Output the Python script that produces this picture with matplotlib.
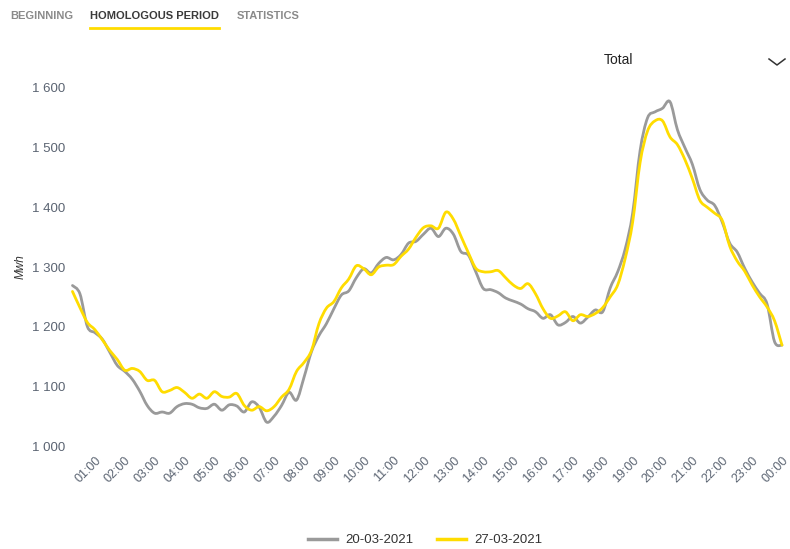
import matplotlib
matplotlib.use("Agg")
import matplotlib.pyplot as plt
from matplotlib.lines import Line2D
from matplotlib.path import Path
from matplotlib.patches import PathPatch
import numpy as np

# quarter-hour data from 00:15 to 24:00
gray_values = [
    1269, 1255, 1200, 1190, 1179, 1157, 1135, 1125,
    1112, 1092, 1068, 1055, 1057, 1055, 1066, 1071,
    1070, 1064, 1063, 1070, 1060, 1069, 1067, 1057,
    1074, 1065, 1040, 1050, 1068, 1090, 1077, 1115,
    1158, 1185, 1205, 1230, 1253, 1260, 1282, 1297,
    1290, 1306, 1316, 1312, 1321, 1340, 1343, 1355,
    1365, 1351, 1365, 1355, 1326, 1320, 1292, 1264,
    1262, 1257, 1248, 1243, 1238, 1230, 1225, 1214,
    1220, 1203, 1207, 1217, 1206, 1216, 1228, 1225,
    1265, 1292, 1330, 1390, 1495, 1550, 1560, 1566,
    1577, 1530, 1500, 1472, 1430, 1412, 1403, 1375,
    1340, 1325, 1298, 1275, 1256, 1238, 1175, 1169,
]
yellow_values = [
    1259, 1232, 1207, 1195, 1178, 1160, 1145, 1127,
    1130, 1125, 1110, 1110, 1091, 1093, 1098, 1090,
    1080, 1087, 1080, 1091, 1083, 1082, 1088, 1068,
    1060, 1066, 1059, 1066, 1082, 1095, 1125, 1140,
    1160, 1205, 1231, 1242, 1265, 1280, 1302, 1297,
    1287, 1300, 1303, 1304, 1318, 1330, 1350, 1366,
    1369, 1365, 1392, 1380, 1352, 1324, 1298, 1292,
    1292, 1294, 1282, 1270, 1264, 1272, 1255, 1230,
    1214, 1218, 1225, 1210, 1220, 1217, 1222, 1232,
    1250, 1270, 1314, 1375, 1475, 1528, 1545, 1545,
    1518, 1505, 1480, 1448, 1412, 1400, 1390, 1378,
    1335, 1310, 1293, 1270, 1250, 1233, 1210, 1169,
]
series_labels = ["20-03-2021", "27-03-2021"]
tick_hours = list(range(1, 25))
tick_labels = ["%02d:00" % (h % 24) for h in tick_hours]
y_ticks = [1000, 1100, 1200, 1300, 1400, 1500, 1600]
y_tick_labels = ["1 000", "1 100", "1 200", "1 300", "1 400", "1 500", "1 600"]

times = np.arange(1, len(gray_values) + 1) * 0.25

plt.rcParams['font.family'] = ['Liberation Sans', 'DejaVu Sans']

W, H = 790, 549
fig = plt.figure(figsize=(W / 100, H / 100), dpi=100)
fig.patch.set_facecolor('white')

left, right, top, bottom = 65, 782, 88, 446
ax = fig.add_axes([left / W, (H - bottom) / H, (right - left) / W, (bottom - top) / H])
ax.set_facecolor('white')

gray_c = '#9a9a9a'
yellow_c = '#ffdc00'


def spline_path(x, y, k=1.0 / 6.0):
    """Bezier path through the data points (Catmull-Rom style, like a spline series)."""
    x = np.asarray(x, float)
    y = np.asarray(y, float)
    verts = [(x[0], y[0])]
    codes = [Path.MOVETO]
    n = len(x)
    for i in range(n - 1):
        x0, y0 = (x[i - 1], y[i - 1]) if i > 0 else (x[i], y[i])
        x3, y3 = (x[i + 2], y[i + 2]) if i + 2 < n else (x[i + 1], y[i + 1])
        c1 = (x[i] + (x[i + 1] - x0) * k, y[i] + (y[i + 1] - y0) * k)
        c2 = (x[i + 1] - (x3 - x[i]) * k, y[i + 1] - (y3 - y[i]) * k)
        verts += [c1, c2, (x[i + 1], y[i + 1])]
        codes += [Path.CURVE4] * 3
    return Path(verts, codes)


for vals, col in ((gray_values, gray_c), (yellow_values, yellow_c)):
    ax.add_patch(PathPatch(spline_path(times, vals), facecolor='none', edgecolor=col,
                           lw=2.0, capstyle='round', joinstyle='round', clip_on=False))

ax.set_xlim(0, 24)
ax.set_ylim(1000, 1600)
for s in ax.spines.values():
    s.set_visible(False)

tick_color = '#5b6472'
ax.set_yticks(y_ticks)
ax.set_yticklabels(y_tick_labels, fontsize=9.5, color=tick_color)
ax.set_xticks(tick_hours)
ax.set_xticklabels(tick_labels, fontsize=9, color=tick_color, rotation=45,
                   ha='right', rotation_mode='anchor')
ax.tick_params(axis='both', length=0)
ax.tick_params(axis='y', pad=0)
ax.tick_params(axis='x', pad=6)

fig.text(21 / W, 1 - 267 / H, "Mwh", rotation=90, style='italic', fontsize=8.5,
         color='#333333', ha='center', va='center')

# legend
leg = fig.legend(handles=[Line2D([], [], color=gray_c, lw=2.5),
                          Line2D([], [], color=yellow_c, lw=2.5)],
                 labels=series_labels, loc='center', bbox_to_anchor=(425 / W, 1 - 540 / H),
                 ncol=2, frameon=False, fontsize=9.5, handlelength=2.2,
                 columnspacing=1.8, handletextpad=0.6)
for t in leg.get_texts():
    t.set_color('#333333')

# top tabs
fig.text(10 / W, 1 - 16 / H, "BEGINNING", fontsize=8, fontweight='bold', color='#8a8a8a',
         ha='left', va='center')
fig.text(90 / W, 1 - 16 / H, "HOMOLOGOUS PERIOD", fontsize=8, fontweight='bold',
         color='#3a3a3a', ha='left', va='center')
fig.text(237 / W, 1 - 16 / H, "STATISTICS", fontsize=8, fontweight='bold', color='#8a8a8a',
         ha='left', va='center')
fig.add_artist(Line2D([90 / W, 219 / W], [1 - 28 / H, 1 - 28 / H], color='#ffdc00', lw=2,
                      transform=fig.transFigure))

fig.text(604 / W, 1 - 60 / H, "Total", fontsize=10, color='#222222', ha='left', va='center')
fig.add_artist(Line2D([769 / W, 777 / W, 785 / W], [1 - 59 / H, 1 - 65 / H, 1 - 59 / H],
                      color='#333333', lw=1.1, transform=fig.transFigure))

fig.savefig("out.png", dpi=100, facecolor='white')
